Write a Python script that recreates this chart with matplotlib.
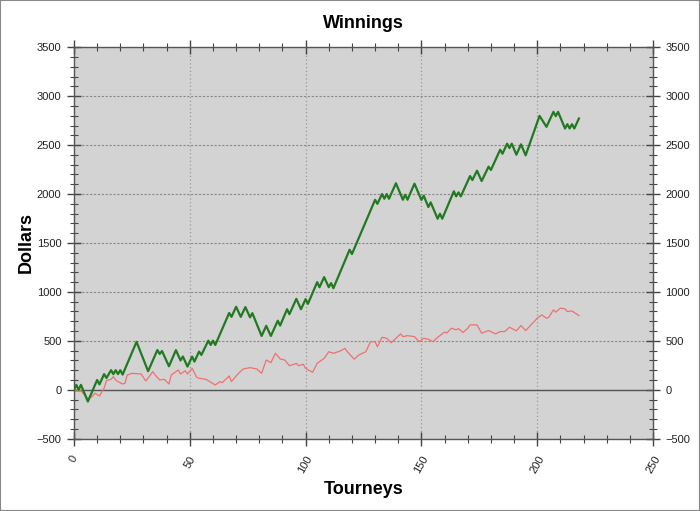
import matplotlib
matplotlib.use("Agg")
import matplotlib.pyplot as plt
from matplotlib.ticker import MultipleLocator
from matplotlib.patches import Rectangle

plt.rcParams['font.family'] = ['Liberation Sans', 'DejaVu Sans']

# Winnings (green) - turning points: tourney number, dollars
green_x = [0, 1, 2, 3, 6, 10, 11, 13, 14, 16, 17, 18, 19, 20, 21, 27, 32, 36, 37, 38,
           41, 44, 46, 47, 49, 51, 52, 54, 55, 58, 59, 60, 61, 67, 68, 70, 72, 74, 76, 77,
           81, 83, 85, 88, 89, 92, 93, 96, 98, 100, 101, 105, 106, 108, 110, 111, 112, 119, 120, 130,
           131, 133, 134, 135, 136, 139, 142, 143, 144, 147, 150, 151, 153, 154, 157, 158, 159, 164, 165, 166,
           167, 171, 172, 174, 176, 179, 180, 184, 185, 187, 188, 189, 191, 193, 195, 201, 204, 207, 208, 209,
           212, 213, 214, 215, 216, 218]
green_y = [0, 50, 0, 50, -120, 100, 55, 160, 120, 200, 160, 200, 160, 200, 155, 490, 190, 406, 366, 396,
           240, 405, 300, 340, 237, 339, 288, 390, 356, 502, 458, 502, 458, 785, 745, 848, 745, 845, 740, 783,
           550, 653, 550, 706, 656, 823, 772, 929, 823, 926, 878, 1100, 1048, 1151, 1048, 1090, 1038, 1431, 1387, 1941,
           1900, 2000, 1952, 2000, 1952, 2110, 1942, 1993, 1942, 2106, 1940, 1983, 1867, 1915, 1748, 1799, 1748, 2028, 1976, 2017,
           1976, 2184, 2143, 2239, 2133, 2280, 2246, 2453, 2412, 2515, 2470, 2515, 2402, 2508, 2396, 2799, 2687, 2840, 2796, 2840,
           2670, 2714, 2670, 2714, 2670, 2772]

# Second series (red)
red_x = [0, 3, 6, 8, 9, 11, 13, 14, 16, 17, 18, 19, 21, 22, 23, 25, 29, 31, 33, 34,
         35, 37, 39, 41, 42, 44, 45, 46, 48, 49, 51, 53, 54, 57, 61, 63, 64, 67, 68, 70,
         72, 73, 76, 79, 81, 83, 85, 87, 89, 91, 93, 95, 96, 97, 99, 100, 103, 105, 108, 110,
         112, 115, 117, 118, 121, 123, 126, 128, 130, 131, 133, 135, 137, 141, 142, 144, 147, 149, 151, 153,
         155, 157, 160, 161, 163, 165, 166, 168, 170, 171, 174, 176, 179, 182, 184, 186, 188, 191, 193, 195,
         198, 200, 202, 204, 205, 207, 208, 210, 212, 213, 215, 216, 218]
red_y = [0, -10, -93, -67, -35, -63, 15, 93, 107, 134, 100, 83, 59, 66, 151, 168, 161, 90, 151, 185,
         151, 100, 107, 59, 151, 185, 202, 161, 195, 161, 219, 127, 117, 107, 49, 83, 73, 141, 83, 141,
         190, 212, 226, 212, 168, 304, 277, 373, 315, 304, 246, 260, 270, 246, 260, 219, 178, 270, 321, 389,
         373, 396, 423, 389, 312, 356, 389, 491, 491, 440, 536, 526, 481, 571, 543, 553, 543, 491, 526, 516,
         491, 536, 590, 580, 629, 612, 625, 585, 629, 663, 663, 578, 605, 571, 595, 595, 639, 602, 656, 605,
         680, 731, 765, 731, 741, 816, 793, 834, 827, 799, 806, 789, 758]

title = "Winnings"
xlabel = "Tourneys"
ylabel = "Dollars"

fig = plt.figure(figsize=(7.0, 5.11), dpi=100)
fig.patch.set_facecolor('white')
fig.patches.append(Rectangle((0, 0), 1, 1, transform=fig.transFigure, fill=False,
                             edgecolor='#888888', linewidth=1.5))
ax = fig.add_axes([0.1057, 0.1415, 0.8272, 0.766])
ax.set_facecolor('#d3d3d3')

ax.set_xlim(0, 250)
ax.set_ylim(-500, 3500)

ax.xaxis.set_major_locator(MultipleLocator(50))
ax.xaxis.set_minor_locator(MultipleLocator(10))
ax.yaxis.set_major_locator(MultipleLocator(500))
ax.yaxis.set_minor_locator(MultipleLocator(100))

ax.grid(True, which='major', axis='x', color='#999999', linestyle=(0, (1, 2)), linewidth=0.9)
ax.grid(True, which='major', axis='y', color='#888888', linestyle=(0, (2, 1.5)), linewidth=0.8)
ax.axhline(0, color='#555555', linewidth=1.0, zorder=2)

ax.plot(red_x, red_y, color='#f07070', linewidth=0.9, zorder=3)
ax.plot(green_x, green_y, color='#217a21', linewidth=1.6, zorder=4)

for s in ax.spines.values():
    s.set_color('#555555')
    s.set_linewidth(1.0)

ax.tick_params(axis='both', which='major', direction='inout', length=10, width=1, color='#444444',
               labelsize=8, labelcolor='#222222')
ax.tick_params(axis='both', which='minor', direction='inout', length=6, width=0.8, color='#444444')
ax.tick_params(axis='y', which='both', left=True, right=True, labelleft=True, labelright=True, pad=4)
ax.tick_params(axis='x', which='both', top=True, bottom=True, labeltop=False)
ax.tick_params(axis='x', which='major', pad=6)

for lbl in ax.get_xticklabels():
    lbl.set_rotation(60)
    lbl.set_ha('center')
    lbl.set_va('top')

ax.set_title(title, fontsize=13, fontweight='bold', pad=14)
ax.set_xlabel(xlabel, fontsize=13, fontweight='bold', labelpad=4)
ax.set_ylabel(ylabel, fontsize=13, fontweight='bold', labelpad=1)

fig.savefig('out.png', dpi=100)
